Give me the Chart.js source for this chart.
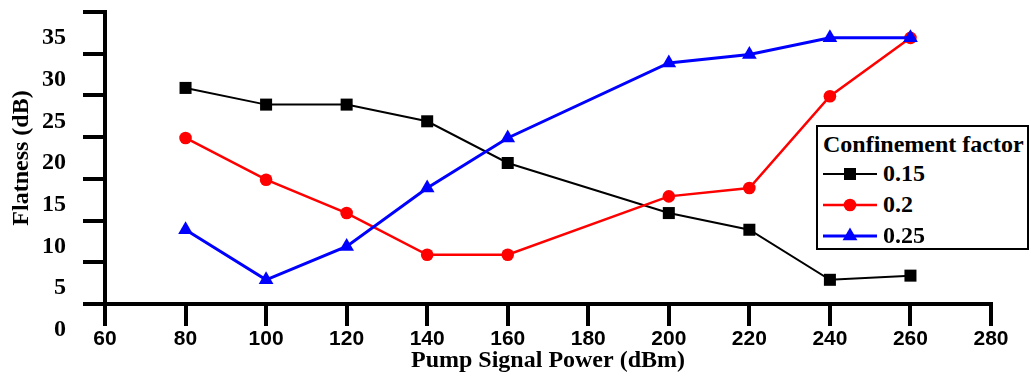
<!DOCTYPE html>
<html>
<head>
<meta charset="utf-8">
<script src="https://cdn.jsdelivr.net/npm/chart.js@4.4.1/dist/chart.umd.min.js"></script>
<style>
body { margin: 0; background: #fff; }
#wrap { position: relative; width: 1031px; height: 376px; }
#legend { position: absolute; left: 816px; top: 125px; width: 209px; height: 121px; border: 2px solid #000; background: #fff; font-family: 'Liberation Serif', serif; font-weight: bold; color: #000; }
#legend .title { position: absolute; left: 5px; top: 3px; font-size: 24px; line-height: 28px; white-space: nowrap; }
#legend .row { position: absolute; left: 4px; height: 31px; font-size: 24px; line-height: 31px; white-space: nowrap; }
#legend .row svg { position: absolute; left: 0; top: 0; }
#legend .row span { position: absolute; left: 61px; top: 0; }
</style>
</head>
<body>
<div id="wrap">
  <canvas id="myChart" width="1031" height="376"></canvas>
  <div id="legend"></div>
</div>
<script>
// data
var xValues = [80, 100, 120, 140, 160, 200, 220, 240, 260];
var flat015 = [29, 27, 27, 25, 20, 14, 12, 6, 6.5];
var flat02 = [23, 18, 14, 9, 9, 16, 17, 28, 35];
var flat025 = [12, 6, 10, 17, 23, 32, 33, 35, 35];
var seriesNames = ['0.15', '0.2', '0.25'];
var xTicks = [60, 80, 100, 120, 140, 160, 180, 200, 220, 240, 260, 280];
var yTickLabels = [0, 5, 10, 15, 20, 25, 30, 35];
// tick marks on the y axis sit a bit above their labels in the original
var yTickShift = 3.1;

function points(ys) {
    return xValues.map(function(x, i) { return {x: x, y: ys[i]}; });
}

var styles = [
    {color: '#000', width: 2, point: 'rect', radius: 8.5, order: 2},
    {color: '#ff0000', width: 2.5, point: 'circle', radius: 6.3, order: 1},
    {color: '#0000ff', width: 3, point: 'triangle', radius: 8.5, order: 0}
];
var series = [flat015, flat02, flat025];

var serif = 'Liberation Serif, Times New Roman, serif';
Chart.defaults.color = '#000';
Chart.defaults.font.family = serif;

var ctx = document.getElementById('myChart').getContext('2d');
var myChart = new Chart(ctx, {
    type: 'line',
    data: {
        datasets: series.map(function(ys, i) {
            var s = styles[i];
            return {
                label: seriesNames[i],
                data: points(ys),
                borderColor: s.color,
                backgroundColor: s.color,
                borderWidth: s.width,
                pointStyle: s.point,
                pointRadius: s.radius,
                pointBorderWidth: 0,
                pointBackgroundColor: s.color,
                order: s.order,
                fill: false,
                tension: 0
            };
        })
    },
    options: {
        responsive: false,
        animation: false,
        layout: {padding: {left: 0, right: 40, top: 12, bottom: 0}},
        plugins: {
            legend: {display: false},
            tooltip: {enabled: false}
        },
        scales: {
            x: {
                type: 'linear',
                min: 60,
                max: 280,
                afterBuildTicks: function(axis) {
                    axis.ticks = xTicks.map(function(v) { return {value: v}; });
                },
                afterFit: function(axis) { axis.height = 72; },
                grid: {drawOnChartArea: false, color: '#000', lineWidth: 4, tickLength: 22},
                border: {color: '#000', width: 4},
                ticks: {
                    font: {family: 'Liberation Sans, Arial, sans-serif', size: 21, weight: 'bold'},
                    padding: 1,
                    maxRotation: 0
                },
                title: {
                    display: true,
                    text: 'Pump Signal Power (dBm)',
                    font: {size: 24, weight: 'bold'},
                    padding: {top: 0, bottom: 1}
                }
            },
            y: {
                type: 'linear',
                min: yTickShift,
                max: yTickShift + 35,
                afterBuildTicks: function(axis) {
                    axis.ticks = yTickLabels.map(function(v) { return {value: v + yTickShift}; });
                },
                afterFit: function(axis) {
                    axis.width = 105;
                    axis.paddingTop = 0;
                    axis.paddingBottom = 0;
                },
                grid: {drawOnChartArea: false, color: '#000', lineWidth: 4, tickLength: 22},
                border: {color: '#000', width: 4},
                ticks: {
                    font: {size: 24, weight: 'bold'},
                    padding: 17,
                    labelOffset: 26,
                    callback: function(value, index) { return yTickLabels[index]; }
                },
                title: {
                    display: true,
                    text: 'Flatness (dB)',
                    font: {size: 24, weight: 'bold'},
                    padding: {top: 7, bottom: 0}
                }
            }
        }
    }
});

// legend box drawn inside the plot, like the original
var legend = document.getElementById('legend');
var html = '<div class="title">Confinement factor</div>';
styles.forEach(function(s, i) {
    var mark;
    if (s.point === 'rect') {
        mark = '<rect x="22" y="10" width="12" height="12" fill="' + s.color + '"/>';
    } else if (s.point === 'circle') {
        mark = '<circle cx="28" cy="16" r="6.3" fill="' + s.color + '"/>';
    } else {
        mark = '<polygon points="28,7.5 35.4,20.3 20.6,20.3" fill="' + s.color + '"/>';
    }
    html += '<div class="row" style="top:' + (31 + i * 31) + 'px">' +
        '<svg width="58" height="31"><line x1="1" y1="16" x2="55" y2="16" stroke="' + s.color + '" stroke-width="' + s.width + '"/>' + mark + '</svg>' +
        '<span>' + seriesNames[i] + '</span></div>';
});
legend.innerHTML = html;
</script>
</body>
</html>
